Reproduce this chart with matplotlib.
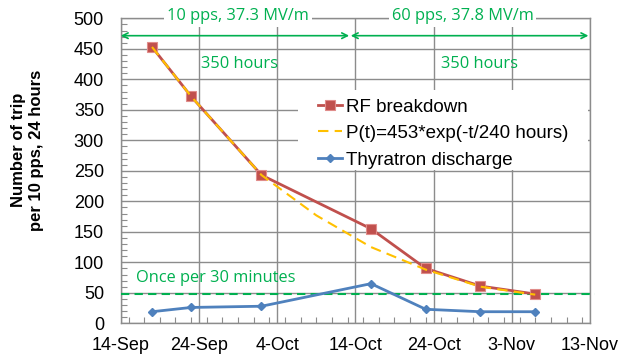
import matplotlib
matplotlib.use("Agg")
import matplotlib.pyplot as plt
import matplotlib.dates as mdates
import pandas as pd
from matplotlib.ticker import MultipleLocator
from matplotlib.patches import Rectangle

plt.rcParams['font.family'] = ['Liberation Sans', 'DejaVu Sans']

# ---- data ----
dates = pd.to_datetime(['2012-09-18', '2012-09-23', '2012-10-02', '2012-10-16',
                        '2012-10-23', '2012-10-30', '2012-11-06'])
rf_breakdown = [453, 372, 243, 155, 90, 61, 48]
thyratron = [19, 26, 28, 65, 23, 19, 19]
fit_dates = pd.to_datetime(['2012-09-18', '2012-09-23', '2012-10-02', '2012-10-09',
                            '2012-10-16', '2012-10-23', '2012-10-30', '2012-11-06'])
fit_values = [453, 372, 243, 177, 125, 88, 60, 47]
tick_dates = pd.to_datetime(['2012-09-14', '2012-09-24', '2012-10-04', '2012-10-14',
                             '2012-10-24', '2012-11-03', '2012-11-13'])
tick_labels = ['14-Sep', '24-Sep', '4-Oct', '14-Oct', '24-Oct', '3-Nov', '13-Nov']
threshold = 48
arrow_split = pd.to_datetime('2012-10-13 05:00')

green = '#00B050'
grid_c = '#8C8C8C'

fig = plt.figure(figsize=(6.2, 3.61), dpi=100)
ax = fig.add_axes([0.1947, 0.1044, 0.9516 - 0.1947, 0.9493 - 0.1044])

x0, x1 = mdates.date2num(tick_dates[0]), mdates.date2num(tick_dates[-1])
ax.set_xlim(x0, x1)
ax.set_ylim(0, 500)

ax.set_xticks(mdates.date2num(tick_dates))
ax.set_xticklabels(tick_labels)
ax.xaxis.set_minor_locator(MultipleLocator(2))
ax.yaxis.set_major_locator(MultipleLocator(50))
ax.yaxis.set_minor_locator(MultipleLocator(10))
ax.tick_params(axis='x', which='major', direction='in', length=0, labelsize=13, pad=10)
ax.tick_params(axis='y', which='major', direction='in', length=0, labelsize=13, pad=12)
ax.tick_params(axis='both', which='minor', direction='in', length=4, color=grid_c, width=0.8)
ax.grid(True, which='major', color=grid_c, linewidth=1.0)
ax.set_axisbelow(True)
for s in ax.spines.values():
    s.set_color(grid_c)
    s.set_linewidth(1.0)

fig.text(28 / 620, 1 - 150 / 361, 'Number of trip\nper 10 pps, 24 hours', fontsize=12,
         fontweight='bold', rotation=90, ha='center', va='center', linespacing=1.25)

# white legend background area
ax.add_patch(Rectangle((0.378, 0.503), 0.996 - 0.378, 0.765 - 0.503,
                       transform=ax.transAxes, facecolor='white', edgecolor='none',
                       zorder=1))

dn = mdates.date2num(dates)
ax.plot(dn, rf_breakdown, color='#C0504D', lw=2, marker='s', ms=6.5,
        markerfacecolor='#C0504D', markeredgecolor='#E08C8A', markeredgewidth=0.8,
        label='RF breakdown', zorder=4)
ax.plot(mdates.date2num(fit_dates), fit_values, color='#FFC000', lw=1.5,
        dashes=(5, 3), label='P(t)=453*exp(-t/240 hours)', zorder=5)
ax.plot(dn, thyratron, color='#4F81BD', lw=2, marker='D', ms=4.5,
        markeredgecolor='#4F81BD', label='Thyratron discharge', zorder=4)

# threshold line
ax.plot([x0, x1 + 0.6], [threshold, threshold], color=green, lw=1.5,
        dashes=(4, 2.5), clip_on=False, zorder=3)
ax.text(x0 + 1.9, threshold + 27, 'Once per 30 minutes', color=green, fontsize=11.8,
        family='Open Sans', va='center', ha='left')

# arrows
xs = mdates.date2num(arrow_split)
ya = 471.5
ax.annotate('', xy=(x0, ya), xytext=(xs, ya),
            arrowprops=dict(arrowstyle='<->', color=green, lw=1.2, shrinkA=0, shrinkB=0),
            annotation_clip=False)
ax.annotate('', xy=(xs + 0.2, ya), xytext=(x1 - 0.2, ya),
            arrowprops=dict(arrowstyle='<->', color=green, lw=1.2, shrinkA=0, shrinkB=0),
            annotation_clip=False)

ax.text(x0 + 15.2, 425, '350 hours', color=green, fontsize=11.8, family='Open Sans',
        va='center', ha='center')
ax.text(x0 + 45.9, 425, '350 hours', color=green, fontsize=11.8, family='Open Sans',
        va='center', ha='center')

ax.text(x0 + 15.0, 503, '10 pps, 37.3 MV/m', color=green, fontsize=11.8, family='Open Sans',
        va='center', ha='center',
        bbox=dict(facecolor='white', edgecolor='none', pad=2), clip_on=False, zorder=6)
ax.text(x0 + 43.7, 503, '60 pps, 37.8 MV/m', color=green, fontsize=11.8, family='Open Sans',
        va='center', ha='center',
        bbox=dict(facecolor='white', edgecolor='none', pad=2), clip_on=False, zorder=6)

leg = ax.legend(loc='upper left', bbox_to_anchor=(0.4044, 0.762), fontsize=13.5,
                frameon=False, handlelength=1.3, handletextpad=0.2,
                labelspacing=0.5, borderpad=0.4, borderaxespad=0)
leg.set_zorder(7)

fig.savefig('out.png', dpi=100)
